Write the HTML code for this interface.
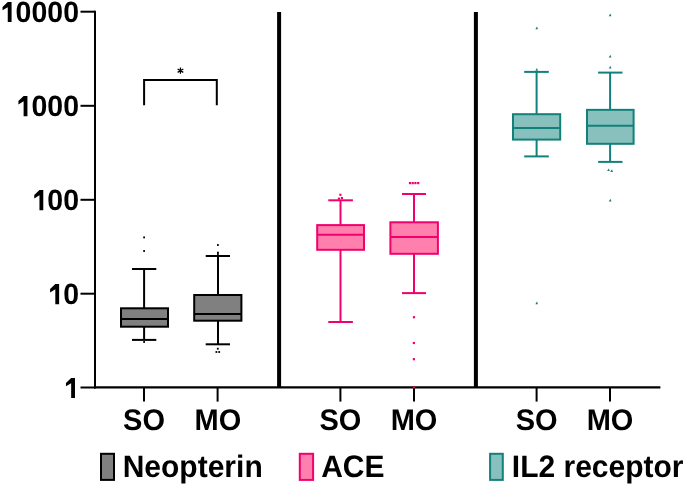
<!DOCTYPE html>
<html><head><meta charset="utf-8"><style>
html,body{margin:0;padding:0;background:#fff;}
body{width:685px;height:485px;overflow:hidden;}
svg{display:block;will-change:transform;text-rendering:geometricPrecision;font-family:"Liberation Sans",sans-serif;}
</style></head><body>
<svg width="685" height="485" viewBox="0 0 685 485">
<rect width="685" height="485" fill="#fff"/>
<line x1="144.1" y1="269.0" x2="144.1" y2="308.3" stroke="#000000" stroke-width="2.0"/>
<line x1="144.1" y1="326.7" x2="144.1" y2="339.9" stroke="#000000" stroke-width="2.0"/>
<line x1="132.0" y1="269.0" x2="156.3" y2="269.0" stroke="#000000" stroke-width="2.0"/>
<line x1="132.0" y1="339.9" x2="156.3" y2="339.9" stroke="#000000" stroke-width="2.0"/>
<rect x="121.00" y="308.30" width="47.00" height="18.40" fill="#808080" stroke="#000000" stroke-width="2.0"/>
<line x1="121.00" y1="318.9" x2="168.00" y2="318.9" stroke="#000000" stroke-width="2.0"/>
<rect x="143.20" y="236.50" width="1.8" height="1.8" fill="#000000"/>
<rect x="143.20" y="250.10" width="1.8" height="1.8" fill="#000000"/>
<rect x="143.20" y="341.10" width="1.8" height="1.8" fill="#000000"/>
<line x1="218.0" y1="256.0" x2="218.0" y2="295.0" stroke="#000000" stroke-width="2.0"/>
<line x1="218.0" y1="320.7" x2="218.0" y2="344.3" stroke="#000000" stroke-width="2.0"/>
<line x1="205.7" y1="256.0" x2="230.0" y2="256.0" stroke="#000000" stroke-width="2.0"/>
<line x1="205.7" y1="344.3" x2="230.0" y2="344.3" stroke="#000000" stroke-width="2.0"/>
<rect x="194.20" y="295.00" width="47.20" height="25.70" fill="#808080" stroke="#000000" stroke-width="2.0"/>
<line x1="194.20" y1="313.9" x2="241.40" y2="313.9" stroke="#000000" stroke-width="2.0"/>
<rect x="217.00" y="244.10" width="1.8" height="1.8" fill="#000000"/>
<rect x="217.00" y="251.70" width="1.8" height="1.8" fill="#000000"/>
<rect x="217.00" y="253.10" width="1.8" height="1.8" fill="#000000"/>
<rect x="216.90" y="347.80" width="1.8" height="1.8" fill="#000000"/>
<rect x="215.50" y="351.10" width="1.8" height="1.8" fill="#000000"/>
<rect x="218.30" y="351.10" width="1.8" height="1.8" fill="#000000"/>
<line x1="340.5" y1="200.3" x2="340.5" y2="225.1" stroke="#F2006E" stroke-width="2.0"/>
<line x1="340.5" y1="249.8" x2="340.5" y2="322.0" stroke="#F2006E" stroke-width="2.0"/>
<line x1="328.3" y1="200.3" x2="352.9" y2="200.3" stroke="#F2006E" stroke-width="2.0"/>
<line x1="328.3" y1="322.0" x2="352.9" y2="322.0" stroke="#F2006E" stroke-width="2.0"/>
<rect x="317.20" y="225.10" width="46.80" height="24.70" fill="#FF80AD" stroke="#F2006E" stroke-width="2.0"/>
<line x1="317.20" y1="234.8" x2="364.00" y2="234.8" stroke="#F2006E" stroke-width="2.0"/>
<rect x="339.30" y="193.70" width="2.2" height="2.2" fill="#F2006E"/>
<rect x="340.80" y="196.90" width="2.2" height="2.2" fill="#F2006E"/>
<rect x="337.80" y="197.60" width="2.2" height="2.2" fill="#F2006E"/>
<line x1="414.0" y1="194.0" x2="414.0" y2="222.3" stroke="#F2006E" stroke-width="2.0"/>
<line x1="414.0" y1="253.8" x2="414.0" y2="293.1" stroke="#F2006E" stroke-width="2.0"/>
<line x1="402.0" y1="194.0" x2="426.0" y2="194.0" stroke="#F2006E" stroke-width="2.0"/>
<line x1="402.0" y1="293.1" x2="426.0" y2="293.1" stroke="#F2006E" stroke-width="2.0"/>
<rect x="390.40" y="222.30" width="47.50" height="31.50" fill="#FF80AD" stroke="#F2006E" stroke-width="2.0"/>
<line x1="390.40" y1="237.0" x2="437.90" y2="237.0" stroke="#F2006E" stroke-width="2.0"/>
<rect x="408.90" y="182.00" width="2.2" height="2.2" fill="#F2006E"/>
<rect x="411.60" y="182.00" width="2.2" height="2.2" fill="#F2006E"/>
<rect x="414.30" y="182.00" width="2.2" height="2.2" fill="#F2006E"/>
<rect x="417.10" y="182.00" width="2.2" height="2.2" fill="#F2006E"/>
<rect x="412.90" y="316.10" width="2.2" height="2.2" fill="#F2006E"/>
<rect x="412.80" y="341.90" width="2.2" height="2.2" fill="#F2006E"/>
<rect x="412.80" y="358.10" width="2.2" height="2.2" fill="#F2006E"/>
<rect x="412.90" y="386.20" width="2.2" height="2.2" fill="#F2006E"/>
<line x1="536.6" y1="71.9" x2="536.6" y2="114.2" stroke="#12807B" stroke-width="2.0"/>
<line x1="536.6" y1="139.6" x2="536.6" y2="156.4" stroke="#12807B" stroke-width="2.0"/>
<line x1="524.2" y1="71.9" x2="548.8" y2="71.9" stroke="#12807B" stroke-width="2.0"/>
<line x1="524.2" y1="156.4" x2="548.8" y2="156.4" stroke="#12807B" stroke-width="2.0"/>
<rect x="513.00" y="114.20" width="47.20" height="25.40" fill="#88C0BD" stroke="#12807B" stroke-width="2.0"/>
<line x1="513.00" y1="128.0" x2="560.20" y2="128.0" stroke="#12807B" stroke-width="2.0"/>
<path d="M536.90,26.50 L538.05,29.20 L535.35,29.20 Z" fill="#12807B"/>
<path d="M536.90,68.10 L538.05,70.80 L535.35,70.80 Z" fill="#12807B"/>
<path d="M536.90,301.50 L538.05,304.20 L535.35,304.20 Z" fill="#12807B"/>
<line x1="610.1" y1="72.6" x2="610.1" y2="109.85" stroke="#12807B" stroke-width="2.0"/>
<line x1="610.1" y1="143.8" x2="610.1" y2="161.9" stroke="#12807B" stroke-width="2.0"/>
<line x1="598.1" y1="72.6" x2="622.5" y2="72.6" stroke="#12807B" stroke-width="2.0"/>
<line x1="598.1" y1="161.9" x2="622.5" y2="161.9" stroke="#12807B" stroke-width="2.0"/>
<rect x="587.00" y="109.85" width="46.60" height="33.95" fill="#88C0BD" stroke="#12807B" stroke-width="2.0"/>
<line x1="587.00" y1="125.8" x2="633.60" y2="125.8" stroke="#12807B" stroke-width="2.0"/>
<path d="M610.30,13.50 L611.45,16.20 L608.75,16.20 Z" fill="#12807B"/>
<path d="M610.30,54.80 L611.45,57.50 L608.75,57.50 Z" fill="#12807B"/>
<path d="M610.30,65.70 L611.45,68.40 L608.75,68.40 Z" fill="#12807B"/>
<path d="M608.70,168.40 L609.85,171.10 L607.15,171.10 Z" fill="#12807B"/>
<path d="M611.90,169.30 L613.05,172.00 L610.35,172.00 Z" fill="#12807B"/>
<path d="M610.40,198.70 L611.55,201.40 L608.85,201.40 Z" fill="#12807B"/>
<line x1="95" y1="10.7" x2="95" y2="388.5" stroke="#000" stroke-width="2"/>
<line x1="80.5" y1="11.7" x2="95" y2="11.7" stroke="#000" stroke-width="2"/>
<line x1="80.5" y1="105.8" x2="95" y2="105.8" stroke="#000" stroke-width="2"/>
<line x1="80.5" y1="199.8" x2="95" y2="199.8" stroke="#000" stroke-width="2"/>
<line x1="80.5" y1="293.7" x2="95" y2="293.7" stroke="#000" stroke-width="2"/>
<line x1="80.5" y1="387.5" x2="95" y2="387.5" stroke="#000" stroke-width="2"/>
<line x1="94" y1="387.4" x2="660.4" y2="387.4" stroke="#000" stroke-width="2.2"/>
<line x1="144.0" y1="387.4" x2="144.0" y2="401.6" stroke="#000" stroke-width="2"/>
<line x1="217.6" y1="387.4" x2="217.6" y2="401.6" stroke="#000" stroke-width="2"/>
<line x1="340.4" y1="387.4" x2="340.4" y2="401.6" stroke="#000" stroke-width="2"/>
<line x1="414.0" y1="387.4" x2="414.0" y2="401.6" stroke="#000" stroke-width="2"/>
<line x1="536.6" y1="387.4" x2="536.6" y2="401.6" stroke="#000" stroke-width="2"/>
<line x1="610.0" y1="387.4" x2="610.0" y2="401.6" stroke="#000" stroke-width="2"/>
<line x1="279.1" y1="12" x2="279.1" y2="387.4" stroke="#000" stroke-width="4"/>
<line x1="475.9" y1="12" x2="475.9" y2="387.4" stroke="#000" stroke-width="4"/>
<rect x="413" y="386.3" width="2" height="2" fill="#F2006E"/>
<path d="M144.1,105.3 V80 H216.8 V105.3" fill="none" stroke="#000" stroke-width="2"/>
<path d="M180.45,67.55000000000001 V73.75 M177.6,68.95 L183.29999999999998,72.35000000000001 M177.6,72.35000000000001 L183.29999999999998,68.95" stroke="#000" stroke-width="1.25" fill="none"/>
<path transform="translate(0.35,22.10) scale(28.5)" d="M0.26,-0.707 L0.394,-0.707 L0.394,0 L0.26,0 L0.26,-0.522 L0.077,-0.412 L0.077,-0.53 Z" fill="#000"/>
<text transform="translate(79.0,22.20) scale(1,1.032)" text-anchor="end" font-size="28.5" font-weight="bold">0000</text>
<path transform="translate(16.20,116.20) scale(28.5)" d="M0.26,-0.707 L0.394,-0.707 L0.394,0 L0.26,0 L0.26,-0.522 L0.077,-0.412 L0.077,-0.53 Z" fill="#000"/>
<text transform="translate(79.0,116.30) scale(1,1.032)" text-anchor="end" font-size="28.5" font-weight="bold">000</text>
<path transform="translate(32.05,210.20) scale(28.5)" d="M0.26,-0.707 L0.394,-0.707 L0.394,0 L0.26,0 L0.26,-0.522 L0.077,-0.412 L0.077,-0.53 Z" fill="#000"/>
<text transform="translate(79.0,210.30) scale(1,1.032)" text-anchor="end" font-size="28.5" font-weight="bold">00</text>
<path transform="translate(47.90,304.20) scale(28.5)" d="M0.26,-0.707 L0.394,-0.707 L0.394,0 L0.26,0 L0.26,-0.522 L0.077,-0.412 L0.077,-0.53 Z" fill="#000"/>
<text transform="translate(79.0,304.30) scale(1,1.032)" text-anchor="end" font-size="28.5" font-weight="bold">0</text>
<path transform="translate(63.75,398.10) scale(28.5)" d="M0.26,-0.707 L0.394,-0.707 L0.394,0 L0.26,0 L0.26,-0.522 L0.077,-0.412 L0.077,-0.53 Z" fill="#000"/>
<text transform="translate(144.0,430.3) scale(1,1.027)" text-anchor="middle" font-size="29.0" font-weight="bold">SO</text>
<text transform="translate(217.9,430.3) scale(1,1.027)" text-anchor="middle" font-size="29.0" font-weight="bold">MO</text>
<text transform="translate(340.4,430.3) scale(1,1.027)" text-anchor="middle" font-size="29.0" font-weight="bold">SO</text>
<text transform="translate(414.0,430.3) scale(1,1.027)" text-anchor="middle" font-size="29.0" font-weight="bold">MO</text>
<text transform="translate(536.6,430.3) scale(1,1.027)" text-anchor="middle" font-size="29.0" font-weight="bold">SO</text>
<text transform="translate(610.0,430.3) scale(1,1.027)" text-anchor="middle" font-size="29.0" font-weight="bold">MO</text>
<rect x="101" y="453.8" width="13.0" height="26.1" fill="#808080" stroke="#000000" stroke-width="2"/>
<text transform="translate(122.7,477) scale(1,1.034)" font-size="30.0" font-weight="bold">Neopterin</text>
<rect x="299.8" y="453.8" width="13.3" height="26.1" fill="#FF80AD" stroke="#F2006E" stroke-width="2"/>
<text transform="translate(321.2,477) scale(1,1.034)" font-size="30.0" font-weight="bold">ACE</text>
<rect x="490.1" y="453.8" width="12.7" height="26.1" fill="#88C0BD" stroke="#12807B" stroke-width="2"/>
<text transform="translate(511.8,477) scale(1,1.034)" font-size="30.0" font-weight="bold">IL2 receptor</text>
</svg>
</body></html>
